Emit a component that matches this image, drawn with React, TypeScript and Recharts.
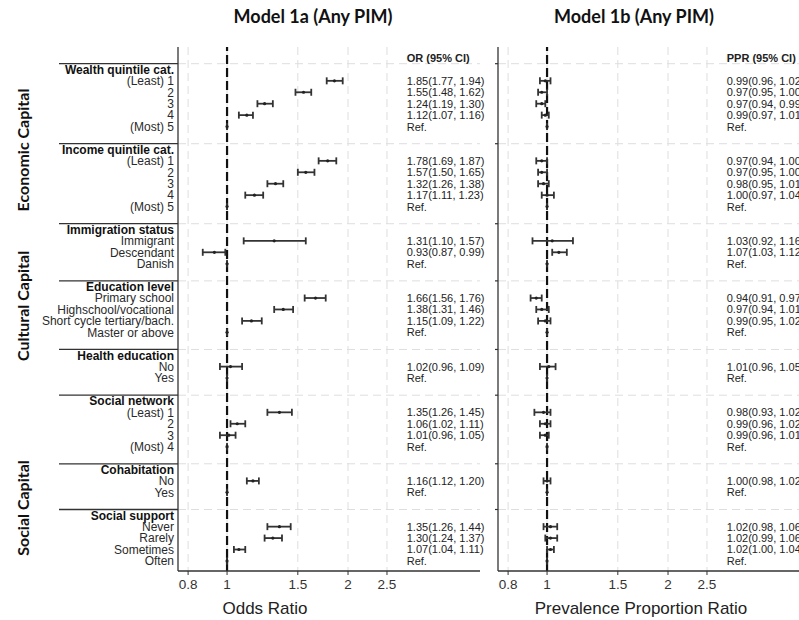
import React from 'react';
import { ComposedChart, Scatter, XAxis, YAxis, CartesianGrid, ReferenceLine, ErrorBar } from 'recharts';

// ---------- data ----------
const groupNames = [
  'Wealth quintile cat.',
  'Income quintile cat.',
  'Immigration status',
  'Education level',
  'Health education',
  'Social network',
  'Cohabitation',
  'Social support',
];
const groupLevels = [
  ['(Least) 1', '2', '3', '4', '(Most) 5'],
  ['(Least) 1', '2', '3', '4', '(Most) 5'],
  ['Immigrant', 'Descendant', 'Danish'],
  ['Primary school', 'Highschool/vocational', 'Short cycle tertiary/bach.', 'Master or above'],
  ['No', 'Yes'],
  ['(Least) 1', '2', '3', '(Most) 4'],
  ['No', 'Yes'],
  ['Never', 'Rarely', 'Sometimes', 'Often'],
];
// null = reference category
const orEstimate = [
  [1.85, 1.55, 1.24, 1.12, null],
  [1.78, 1.57, 1.32, 1.17, null],
  [1.31, 0.93, null],
  [1.66, 1.38, 1.15, null],
  [1.02, null],
  [1.35, 1.06, 1.01, null],
  [1.16, null],
  [1.35, 1.30, 1.07, null],
];
const orLower = [
  [1.77, 1.48, 1.19, 1.07, null],
  [1.69, 1.50, 1.26, 1.11, null],
  [1.10, 0.87, null],
  [1.56, 1.31, 1.09, null],
  [0.96, null],
  [1.26, 1.02, 0.96, null],
  [1.12, null],
  [1.26, 1.24, 1.04, null],
];
const orUpper = [
  [1.94, 1.62, 1.30, 1.16, null],
  [1.87, 1.65, 1.38, 1.23, null],
  [1.57, 0.99, null],
  [1.76, 1.46, 1.22, null],
  [1.09, null],
  [1.45, 1.11, 1.05, null],
  [1.20, null],
  [1.44, 1.37, 1.11, null],
];
const pprEstimate = [
  [0.99, 0.97, 0.97, 0.99, null],
  [0.97, 0.97, 0.98, 1.00, null],
  [1.03, 1.07, null],
  [0.94, 0.97, 0.99, null],
  [1.01, null],
  [0.98, 0.99, 0.99, null],
  [1.00, null],
  [1.02, 1.02, 1.02, null],
];
const pprLower = [
  [0.96, 0.95, 0.94, 0.97, null],
  [0.94, 0.95, 0.95, 0.97, null],
  [0.92, 1.03, null],
  [0.91, 0.94, 0.95, null],
  [0.96, null],
  [0.93, 0.96, 0.96, null],
  [0.98, null],
  [0.98, 0.99, 1.00, null],
];
const pprUpper = [
  [1.02, 1.00, 0.99, 1.01, null],
  [1.00, 1.00, 1.01, 1.04, null],
  [1.16, 1.12, null],
  [0.97, 1.01, 1.02, null],
  [1.05, null],
  [1.02, 1.02, 1.01, null],
  [1.02, null],
  [1.06, 1.06, 1.04, null],
];
const xTicks = [0.8, 1, 1.5, 2, 2.5];
const capitalNames = ['Economic Capital', 'Cultural Capital', 'Social Capital'];

// ---------- layout constants ----------
const X_DOMAIN: [number, number] = [0.755, 4.26];
const Y_DOMAIN: [number, number] = [-0.96, 44.88];
const TEXT_X = 2.8;
const FONT = "'Liberation Sans', Arial, sans-serif";
const TITLE_FONT = "Lato, 'Open Sans', sans-serif";
const CAPITAL_Y = [150, 306, 508];

// ---------- build rows ----------
type Row = { row: number; label: string; header: boolean };
const rows: Row[] = [];
const separators: number[] = [];
const buildModel = (est: (number | null)[][], lo: (number | null)[][], hi: (number | null)[][]) => {
  const pts: any[] = [];
  const txt: any[] = [];
  let r = 0;
  groupNames.forEach((g, gi) => {
    if (gi > 0) r++;
    r++;
    groupLevels[gi].forEach((lv, li) => {
      r++;
      const e = est[gi][li];
      if (e === null) {
        pts.push({ x: 1, y: r, err: [0, 0] });
        txt.push({ x: TEXT_X, y: r, label: 'Ref.', bold: false });
      } else {
        const l = lo[gi][li] as number;
        const h = hi[gi][li] as number;
        pts.push({ x: e, y: r, err: [e - l, h - e] });
        txt.push({ x: TEXT_X, y: r, label: `${e.toFixed(2)}(${l.toFixed(2)}, ${h.toFixed(2)})`, bold: false });
      }
    });
  });
  return { pts, txt };
};
(() => {
  let r = 0;
  groupNames.forEach((g, gi) => {
    if (gi > 0) r++;
    r++;
    separators.push(r - 0.5);
    rows.push({ row: r, label: g, header: true });
    groupLevels[gi].forEach((lv) => {
      r++;
      rows.push({ row: r, label: lv, header: false });
    });
  });
})();
const labelByRow: Record<number, Row> = {};
rows.forEach((r) => (labelByRow[r.row] = r));
const yTicks = [...rows.map((r) => r.row), ...separators].sort((a, b) => a - b);
const sepSet = new Set(separators);

const modelA = buildModel(orEstimate, orLower, orUpper);
modelA.txt.unshift({ x: TEXT_X, y: 0, label: 'OR (95% CI)', bold: true });
const modelB = buildModel(pprEstimate, pprLower, pprUpper);
modelB.txt.unshift({ x: TEXT_X, y: 0, label: 'PPR (95% CI)', bold: true });

// ---------- render helpers ----------
const LeftTick = (props: any) => {
  const { x, y, payload } = props;
  const v = payload.value;
  if (sepSet.has(v)) {
    return <line x1={x - 115} x2={x + 4} y1={y} y2={y} stroke="#333" strokeWidth={1.3} />;
  }
  const r = labelByRow[v];
  if (!r) return null;
  return (
    <text x={x} y={y} dy="0.36em" textAnchor="end" fontSize={12} fontFamily={FONT}
      fontWeight={r.header ? 'bold' : 'normal'} fill={r.header ? '#111' : '#2a2a2a'}>
      {r.label}
    </text>
  );
};
const RightTick = (props: any) => {
  const { x, y, payload } = props;
  if (sepSet.has(payload.value)) {
    return <line x1={x + 1} x2={x + 4} y1={y} y2={y} stroke="#333" strokeWidth={1.2} />;
  }
  return null;
};
const Dot = (props: any) => <circle cx={props.cx} cy={props.cy} r={1.6} fill="#222" />;
const CiText = (props: any) => (
  <text x={props.cx} y={props.cy} dy="0.36em" textAnchor="start" fontSize={11} fontFamily={FONT}
    fontWeight={props.payload.bold ? 'bold' : 'normal'} fill="#222">
    {props.payload.label}
  </text>
);

const Panel = ({ model, width, marginRight, yWidth, tick }: any) => (
  <ComposedChart width={width} height={620} margin={{ top: 47, right: marginRight, bottom: 0, left: 0 }}>
    <CartesianGrid stroke="#dedede" strokeDasharray="8 5" horizontalValues={separators} verticalValues={xTicks} />
    <XAxis type="number" dataKey="x" scale="log" domain={X_DOMAIN} ticks={xTicks}
      tickFormatter={(v: number) => String(v)} height={49} axisLine={{ stroke: '#333', strokeWidth: 1.3 }}
      tickLine={{ stroke: '#333' }} tickSize={4} tickMargin={4}
      tick={{ fontSize: 13.5, fill: '#333', fontFamily: FONT }} />
    <YAxis type="number" dataKey="y" reversed domain={Y_DOMAIN} ticks={yTicks} interval={0}
      width={yWidth} tickSize={0} tickMargin={4} tickLine={false}
      axisLine={{ stroke: '#333', strokeWidth: 1.3 }} tick={tick} />
    <ReferenceLine x={1} stroke="#111" strokeWidth={2.2} strokeDasharray="9 4" />
    <Scatter data={model.pts} shape={Dot} isAnimationActive={false}>
      <ErrorBar dataKey="err" direction="x" width={3.5} stroke="#333" strokeWidth={1.8} />
    </Scatter>
    <Scatter data={model.txt} shape={CiText} isAnimationActive={false} />
  </ComposedChart>
);

export default function App() {
  return (
    <div style={{ position: 'absolute', left: 0, top: 0, width: 799, height: 620, overflow: 'hidden', background: '#fff' }}>
      <div style={{ position: 'absolute', left: 0, top: 0 }}>
        <Panel model={modelA} width={490} marginRight={10} yWidth={178} tick={<LeftTick />} />
      </div>
      <div style={{ position: 'absolute', left: 440, top: 0 }}>
        <Panel model={modelB} width={380} marginRight={20} yWidth={58} tick={<RightTick />} />
      </div>
      <svg width={799} height={620} style={{ position: 'absolute', left: 0, top: 0, pointerEvents: 'none' }}>
        <text x={313} y={23} textAnchor="middle" fontSize={18} fontWeight="bold" fontFamily={TITLE_FONT} fill="#111">Model 1a (Any PIM)</text>
        <text x={634} y={23} textAnchor="middle" fontSize={18} fontWeight="bold" fontFamily={TITLE_FONT} fill="#111">Model 1b (Any PIM)</text>
        {capitalNames.map((n, i) => {
          const cy = CAPITAL_Y[i];
          return (
            <text key={n} x={29} y={cy} transform={`rotate(-90 29 ${cy})`} textAnchor="middle" fontSize={16}
              fontWeight="bold" fontFamily={TITLE_FONT} fill="#111">{n}</text>
          );
        })}
        <text x={265} y={614} textAnchor="middle" fontSize={17} fontFamily={FONT} fill="#222">Odds Ratio</text>
        <text x={641} y={614} textAnchor="middle" fontSize={17} fontFamily={FONT} fill="#222">Prevalence Proportion Ratio</text>
      </svg>
    </div>
  );
}
